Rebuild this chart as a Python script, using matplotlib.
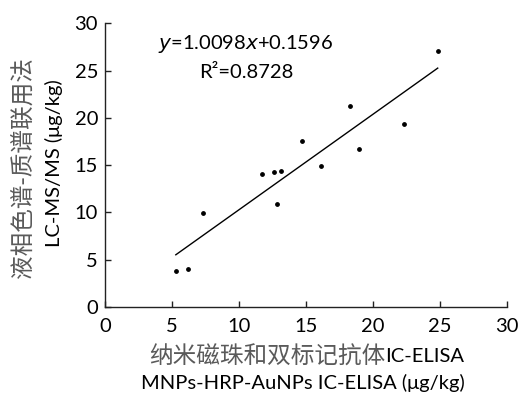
import matplotlib
matplotlib.use("Agg")
import matplotlib.pyplot as plt
import numpy as np

x_vals = [5.29, 6.21, 7.35, 11.74, 12.66, 13.11, 12.86, 14.71, 16.15, 18.27, 18.97, 22.31, 24.85]
y_vals = [3.78, 3.99, 9.96, 14.02, 14.23, 14.37, 10.91, 17.52, 14.87, 21.26, 16.67, 19.35, 27.05]
slope = 1.0098
intercept = 0.1596
ticks = [0, 5, 10, 15, 20, 25, 30]

plt.rcParams['font.family'] = ['Lato', 'Noto Sans CJK SC', 'DejaVu Sans']

fig = plt.figure(figsize=(5.21, 4.01), dpi=100)
ax = fig.add_axes([0.2015, 0.235, 0.771, 0.707])

ax.scatter(x_vals, y_vals, s=6, color='black', zorder=3)
xl = np.array([min(x_vals), max(x_vals)])
ax.plot(xl, slope * xl + intercept, color='black', lw=1.0)

ax.set_xlim(0, 30)
ax.set_ylim(0, 30)
ax.set_xticks(ticks)
ax.set_yticks(ticks)
ax.tick_params(direction='in', length=4, width=1, labelsize=14.5, color='#222222')
ax.tick_params(axis='y', pad=5)
ax.tick_params(axis='x', pad=8)
for s in ['top', 'right']:
    ax.spines[s].set_visible(False)
for s in ['left', 'bottom']:
    ax.spines[s].set_linewidth(1.0)
    ax.spines[s].set_color('#222222')

ax.text(0.351, 0.928, r'$\mathit{y}$=1.0098$\mathit{x}$+0.1596', transform=ax.transAxes,
        ha='center', va='center', fontsize=14.5)
ax.text(0.351, 0.828, 'R²=0.8728', transform=ax.transAxes,
        ha='center', va='center', fontsize=14.5)

cjk = dict(fontsize=17, color='#5a5a5a', family=['Noto Sans CJK SC'], fontweight='light')
fig.text(0.044, 0.581, '液相色谱-质谱联用法', rotation=90, ha='center', va='center', **cjk)
fig.text(0.104, 0.592, 'LC-MS/MS (μg/kg)', rotation=90, ha='center', va='center',
         fontsize=14.5, color='black')
fig.text(0.739, 0.110, '纳米磁珠和双标记抗体', ha='right', va='center', **cjk)
fig.text(0.739, 0.110, 'IC-ELISA', ha='left', va='center',
         fontsize=14.5, color='black')
fig.text(0.582, 0.045, 'MNPs-HRP-AuNPs IC-ELISA (μg/kg)', ha='center', va='center',
         fontsize=14.5, color='black')

fig.savefig('out.png', dpi=100)
